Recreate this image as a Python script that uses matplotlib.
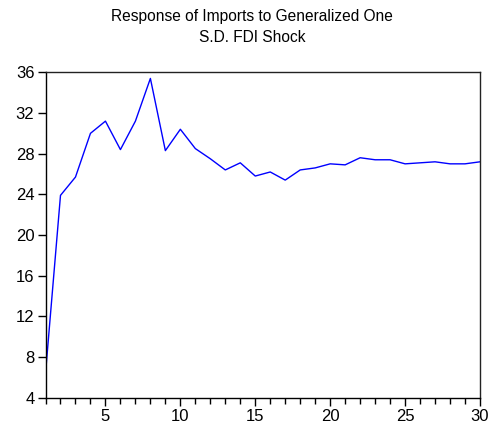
import matplotlib
matplotlib.use("Agg")
import matplotlib.pyplot as plt
from matplotlib.ticker import MultipleLocator

plt.rcParams['font.family'] = ['Liberation Sans', 'DejaVu Sans']

periods = list(range(1, 31))
response = [6.4, 23.9, 25.7, 30.0, 31.2, 28.4, 31.2, 35.4, 28.3, 30.4,
            28.5, 27.5, 26.4, 27.1, 25.8, 26.2, 25.4, 26.4, 26.6, 27.0,
            26.9, 27.6, 27.4, 27.4, 27.0, 27.1, 27.2, 27.0, 27.0, 27.2]
title = "Response of Imports to Generalized One\nS.D. FDI Shock"
x_ticks = [5, 10, 15, 20, 25, 30]
y_ticks = [4, 8, 12, 16, 20, 24, 28, 32, 36]

fig = plt.figure(figsize=(4.92, 4.28), dpi=100)
ax = fig.add_axes([0.0925, 0.0708, 0.8831, 0.7602])
ax.plot(periods, response, color='#0000ff', linewidth=1.0)
ax.set_xlim(1, 30)
ax.set_ylim(4, 36)
ax.set_xticks(x_ticks)
ax.set_yticks(y_ticks)
ax.xaxis.set_minor_locator(MultipleLocator(1))
ax.tick_params(axis='both', which='major', labelsize=12, direction='out',
               length=6, width=1, pad=2, color='black')
ax.tick_params(axis='x', which='minor', length=4, width=1)
ax.tick_params(top=False, right=False)
for s in ax.spines.values():
    s.set_linewidth(1.0)
    s.set_color('#222222')
ax.spines['left'].set_color('black')
ax.spines['bottom'].set_color('black')
fig.text(0.512, 0.978, title, ha='center', va='top', fontsize=11.2, linespacing=1.45)
fig.savefig('out.png', dpi=100)
